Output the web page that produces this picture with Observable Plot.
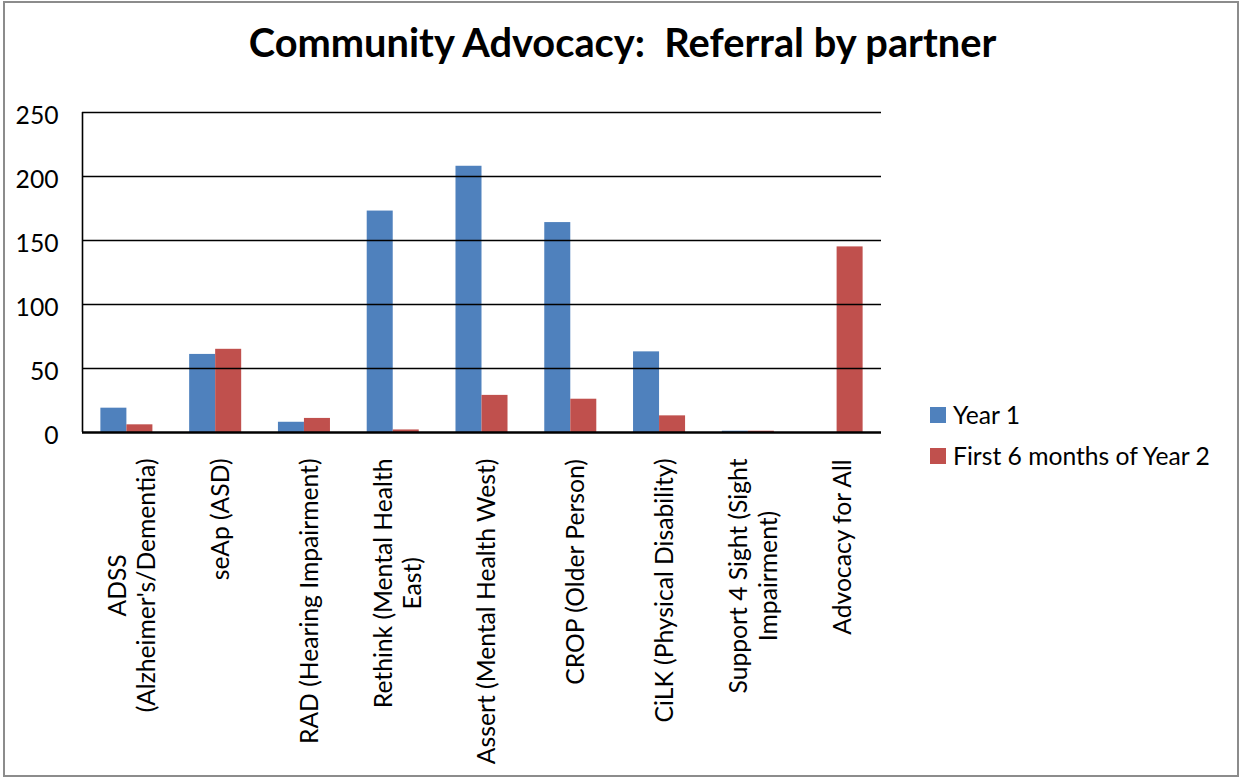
<!DOCTYPE html>
<html><head><meta charset="utf-8">
<script src="https://cdn.jsdelivr.net/npm/d3@7"></script>
<script src="https://cdn.jsdelivr.net/npm/@observablehq/plot@0.6"></script>
<style>
body{margin:0;background:#fff;}
#frame{position:relative;width:1241px;height:778px;overflow:hidden;font-family:Lato, "Open Sans", sans-serif;color:#000;}
#border{position:absolute;left:3px;top:1px;width:1236px;height:776px;border:2px solid #8c8c8c;box-sizing:border-box;}
#title{position:absolute;left:2px;width:1241px;top:18px;text-align:center;font-weight:bold;white-space:pre;}
#chart{position:absolute;left:0;top:90px;}
#legend{position:absolute;left:930px;top:394px;}
.item{display:flex;align-items:center;height:41px;}
.sw{width:16px;height:16px;margin-right:7px;}
</style>
</head>
<body>
<div id="frame">
  <div id="border"></div>
  <div id="title"></div>
  <div id="chart"></div>
  <div id="legend"></div>
</div>
<script>
const titleText = "Community Advocacy:  Referral by partner";
const categories = ["ADSS (Alzheimer's/Dementia)", "seAp (ASD)", "RAD (Hearing Impairment)", "Rethink (Mental Health East)", "Assert (Mental Health West)", "CROP (Older Person)", "CiLK (Physical Disability)", "Support 4 Sight (Sight Impairment)", "Advocacy for All"];
const tickLabels = ["ADSS\n(Alzheimer's/Dementia)", "seAp (ASD)", "RAD (Hearing Impairment)", "Rethink (Mental Health\nEast)", "Assert (Mental Health West)", "CROP (Older Person)", "CiLK (Physical Disability)", "Support 4 Sight (Sight\nImpairment)", "Advocacy for All"];
const seriesNames = ["Year 1", "First 6 months of Year 2"];
const year1 = [19, 61, 8, 173, 208, 164, 63, 1, 0];
const year2 = [6, 65, 11, 2, 29, 26, 13, 1, 145];
const seriesColors = ["#4F81BD", "#C0504D"];
const yTicks = [0, 50, 100, 150, 200, 250];

const data = categories.flatMap((c, i) => [
  {category: c, series: seriesNames[0], value: year1[i]},
  {category: c, series: seriesNames[1], value: year2[i]}
]);

const FONT = "Lato";
function measure(text, font) {
  const ctx = document.createElement("canvas").getContext("2d");
  ctx.font = font;
  return ctx.measureText(text).width;
}

async function draw() {
  try { await document.fonts.load(`24px ${FONT}`); await document.fonts.load(`bold 36px ${FONT}`); } catch (e) {}
  let fs = 100 * 254 / measure("(Alzheimer's/Dementia)", `100px ${FONT}`);
  if (!isFinite(fs) || fs < 15 || fs > 30) fs = 23.5;
  let tfs = 100 * 751 / measure(titleText, `bold 100px ${FONT}`);
  if (!isFinite(tfs) || tfs < 25 || tfs > 45) tfs = 36;

  const title = document.getElementById("title");
  title.textContent = titleText;
  title.style.fontSize = tfs + "px";

  const W = 1241, H = 688;
  const mL = 82, mR = 360, mT = 22, mB = 346;
  const step = (W - mL - mR) / categories.length;
  const gap = step * 0.207;

  const labelMarks = tickLabels.map((t, i) => {
    const maxW = Math.max(...t.split("\n").map(l => measure(l, `${fs}px ${FONT}`)));
    return Plot.text([i], {
      x: j => categories[j], text: j => tickLabels[j],
      frameAnchor: "bottom", rotate: -90, textAnchor: "middle", lineAnchor: "middle",
      dy: 26 + maxW / 2, dx: 4, fontSize: fs, lineHeight: 1.2, fill: "#000"
    });
  });

  const chart = Plot.plot({
    width: W, height: H,
    marginLeft: mL, marginRight: mR, marginTop: mT, marginBottom: mB,
    style: {fontFamily: FONT, fontSize: fs + "px", background: "transparent", color: "#000"},
    x: {domain: categories, padding: 0, round: false, axis: null},
    y: {domain: [0, 250], axis: null},
    color: {domain: seriesNames, range: seriesColors},
    marks: [
      Plot.barY(data.filter(d => d.series === seriesNames[0]), {x: "category", y: "value", fill: "series", insetLeft: gap, insetRight: step / 2}),
      Plot.barY(data.filter(d => d.series === seriesNames[1]), {x: "category", y: "value", fill: "series", insetLeft: step / 2, insetRight: gap}),
      Plot.ruleY(yTicks.filter(v => v > 0), {y: d => d, stroke: "#000", strokeWidth: 1.6}),
      Plot.ruleY([0], {stroke: "#000", strokeWidth: 2.6}),
      Plot.ruleX([categories[0]], {x: d => d, y1: 0, y2: 250, dx: -step / 2, stroke: "#000", strokeWidth: 1.6}),
      Plot.axisY({ticks: yTicks, tickSize: 0, tickPadding: 24, fontSize: fs, dy: 4, label: null}),
      ...labelMarks
    ]
  });
  document.getElementById("chart").appendChild(chart);

  const legend = document.getElementById("legend");
  seriesNames.forEach((s, i) => {
    const it = document.createElement("div");
    it.className = "item";
    it.style.fontSize = fs + "px";
    const sw = document.createElement("div");
    sw.className = "sw";
    sw.style.background = seriesColors[i];
    const tx = document.createElement("span");
    tx.textContent = s;
    it.appendChild(sw); it.appendChild(tx);
    legend.appendChild(it);
  });
}
draw();
</script>
</body></html>
